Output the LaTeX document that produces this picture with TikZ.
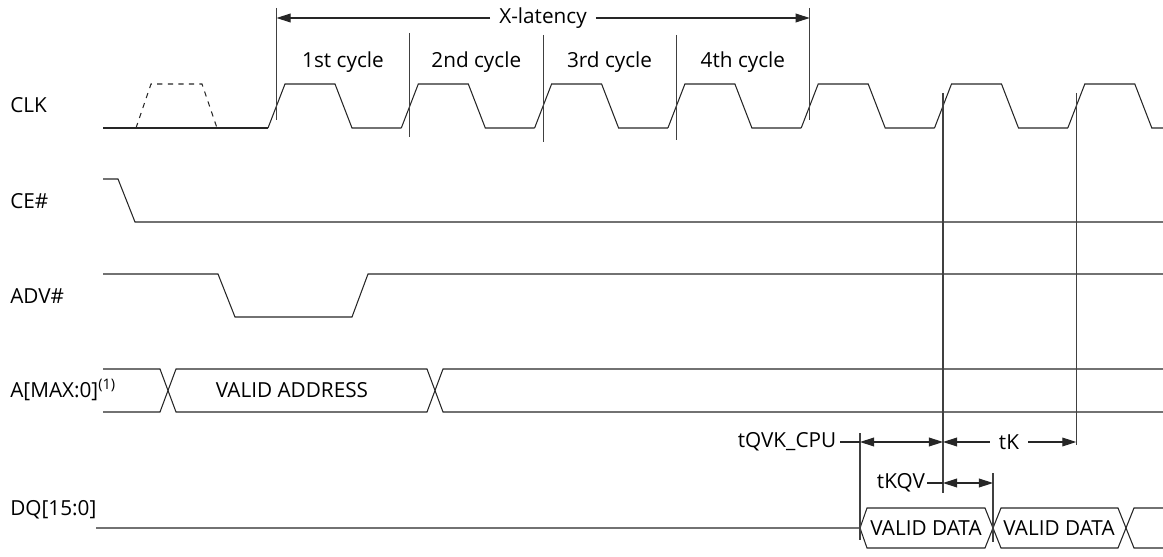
\documentclass[tikz,border=0pt]{standalone}
\usepackage{fontspec}
\setmainfont{Open Sans}
\usetikzlibrary{arrows.meta, positioning}

\tikzset{
  wave/.style={line width=0.6pt, black!85},
  guide/.style={line width=0.6pt, black!75},
  tip/.tip={Triangle[length=8pt,width=5pt]},
  dimarrow/.style={line width=0.6pt, black!85, tip-tip},
  leader/.style={line width=0.6pt, black!85},
  sig/.style={anchor=west, inner sep=0pt, font=\fontsize{11.8}{14}\selectfont},
  lbl/.style={inner sep=1pt, font=\fontsize{11.8}{14}\selectfont},
}

\begin{document}
\begin{tikzpicture}[x=0.02cm, y=-0.02cm]
  \useasboundingbox (0,0) rectangle (1163,557);

  % signal names
  \node[sig] (clk) at (10,105) {CLK};
  \node[sig] (ce) at (10,201) {CE\#};
  \node[sig] (adv) at (10,296) {ADV\#};
  \node[sig] (addr) at (10,390) {A[MAX:0]\textsuperscript{(1)}};
  \node[sig] (dq) at (10,510) {DQ[15:0]};

  % clock
  \draw[wave, line width=0.9pt] (103,128) -- (268,128);
  \draw[wave, dashed] (136,128) -- (151,84) -- (202,84) -- (217,128);
  \foreach \k in {0,...,5} {
    \draw[wave] (268+133.3*\k,128) -- ++(17,-44) -- ++(50,0) -- ++(17,44) -- ++(49.3,0);
  }
  \draw[wave] (1067.8,128) -- ++(17,-44) -- ++(50,0) -- ++(17,44) -- (1163,128);

  % CE# and ADV#
  \draw[wave] (103,179) -- (118,179) -- (135,222) -- (1163,222);
  \draw[wave] (103,274) -- (218,274) -- (235,317) -- (352,317) -- (368,274) -- (1163,274);

  % address bus
  \draw[wave] (103,369) -- (160,369) -- (176,412) -- (427,412) -- (443,369) -- (1163,369);
  \draw[wave] (103,412) -- (160,412) -- (176,369) -- (427,369) -- (443,412) -- (1163,412);
  \node[lbl] (vaddr) at (292,390) {VALID ADDRESS};

  % data bus
  \draw[wave] (96,528) -- (860,528) -- (867,508) -- (985,508) -- (1001,548) -- (1118,548) -- (1134,508) -- (1163,508);
  \draw[wave] (860,528) -- (867,548) -- (985,548) -- (1001,508) -- (1118,508) -- (1134,548) -- (1163,548);
  \node[lbl] (vdata1) at (926,528) {VALID DATA};
  \node[lbl] (vdata2) at (1059,528) {VALID DATA};

  % cycle marks
  \foreach \x/\ya/\yb in {276.5/8/120, 409.8/33/137, 543.1/35/142, 676.4/35/140, 809.7/8/120,
                          943/93/493, 1076.3/93/445, 860/433/540, 993/473/542}
    \draw[guide] (\x,\ya) -- (\x,\yb);
  \foreach \n [count=\i from 0] in {1st,2nd,3rd,4th}
    \node[lbl] (cyc\i) at (343+133.3*\i,62) {\n\ cycle};

  % X-latency
  \coordinate (xl0) at (276.5,18);
  \coordinate (xl1) at (809.7,18);
  \node[lbl, inner sep=5pt] (xlat) at (543,18) {X-latency};
  \draw[leader, -tip] (xlat) -- (xl0);
  \draw[leader, -tip] (xlat) -- (xl1);

  % timing parameters
  \coordinate (q0) at (860,442);
  \coordinate (k0) at (943,442);
  \coordinate (k1) at (1076.3,442);
  \node[lbl, anchor=east, inner sep=2pt] (tqvk) at (840,442) {tQVK\_CPU};
  \draw[leader] (tqvk) -- (q0);
  \draw[dimarrow] (q0) -- (k0);
  \node[lbl, inner sep=5pt] (tk) at (1009,442) {tK};
  \draw[leader, -tip] (tk) -- (k0);
  \draw[leader, -tip] (tk) -- (k1);

  \coordinate (v0) at (943,483);
  \coordinate (v1) at (993,483);
  \node[lbl, anchor=east] (tkqv) at (927,483) {tKQV};
  \draw[leader] (tkqv) -- (v0);
  \draw[dimarrow] (v0) -- (v1);
\end{tikzpicture}
\end{document}
